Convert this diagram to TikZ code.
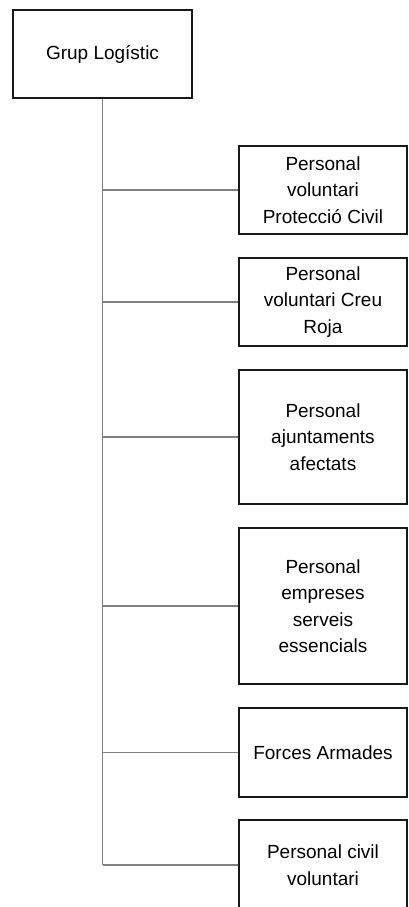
\documentclass[tikz,border=0pt]{standalone}
\usepackage{fontspec}
\setmainfont{Liberation Sans}
\tikzset{
    box/.style={draw=black!90, line width=1.4pt, minimum width=168pt, align=center, inner sep=2pt,
        font=\fontsize{19}{26.5}\selectfont},
    conn/.style={draw=black!50, line width=1.2pt}
}
\begin{document}
\begin{tikzpicture}[x=1pt,y=1pt]
                \useasboundingbox (0,0) rectangle (409,-907); % Размеры рисунка
                \node[box, minimum width=179pt, minimum height=88pt] (grup) at (102.5,-54) {Grup Logístic}; % Главный блок
                \foreach \n/\y/\h/\t in {p1/190/88/{Personal\\voluntari\\Protecció Civil},
                        p2/302/88/{Personal\\voluntari Creu\\Roja},
                        p3/437/134/{Personal\\ajuntaments\\afectats},
                        p4/606/156/{Personal\\empreses\\serveis\\essencials},
                        p5/752.5/89/{Forces Armades},
                        p6/865/90/{Personal civil\\voluntari}} % Блоки справа
                    \node[box, minimum height=\h pt] (\n) at (323,-\y) {\t};
                \draw[conn] (grup.south) -- (grup.south |- p6.west); % Вертикальная линия
                \foreach \i in {1,...,6} % Соединяем блоки с линией
                    \draw[conn] (grup.south |- p\i.west) -- (p\i.west);
                \end{tikzpicture}
\end{document}
